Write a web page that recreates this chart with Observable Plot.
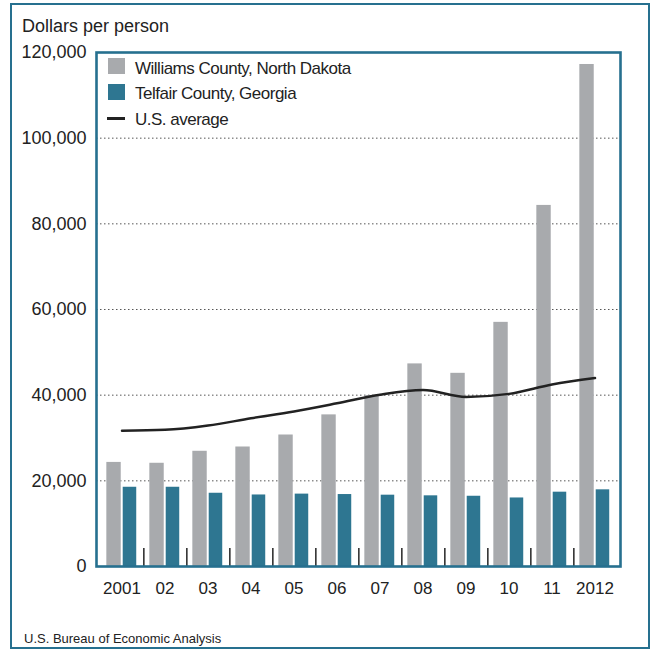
<!DOCTYPE html>
<html>
<head>
<meta charset="utf-8">
<script src="https://cdn.jsdelivr.net/npm/d3@7"></script>
<script src="https://cdn.jsdelivr.net/npm/@observablehq/plot@0.6"></script>
<style>
  html, body { margin: 0; padding: 0; background: #fff; }
  #wrap { position: relative; width: 651px; height: 649px; overflow: hidden; font-family: "Liberation Sans", Arial, Helvetica, sans-serif; color: #222; }
  #outer { position: absolute; left: 10px; top: 3px; width: 636px; height: 642px; border: 2px solid #26708f; }
  #chart { position: absolute; left: 0; top: 0; }
  .txt { position: absolute; white-space: nowrap; }
  #title { left: 22px; top: 16px; font-size: 18px; line-height: 20px; }
  #caption { left: 24px; top: 631px; font-size: 13px; line-height: 15px; }
  .leg { position: absolute; left: 135px; font-size: 17px; line-height: 20px; letter-spacing: -0.5px; white-space: nowrap; }
  .sw { position: absolute; left: 108px; width: 17px; height: 16px; }
  .ln { position: absolute; left: 107px; width: 18px; height: 2.5px; background: #222; }
</style>
</head>
<body>
<div id="wrap">
  <div id="outer"></div>
  <div id="chart"></div>
  <div class="txt" id="title">Dollars per person</div>
  <div class="txt" id="caption">U.S. Bureau of Economic Analysis</div>
  <div id="legend"></div>
</div>
<script>
const years = [2001, 2002, 2003, 2004, 2005, 2006, 2007, 2008, 2009, 2010, 2011, 2012];
const xLabels = ["2001", "02", "03", "04", "05", "06", "07", "08", "09", "10", "11", "2012"];
const williams = [24300, 24100, 26900, 27900, 30700, 35400, 39900, 47300, 45100, 57000, 84300, 117200];
const telfair = [18500, 18500, 17100, 16700, 16900, 16800, 16650, 16500, 16400, 16000, 17350, 17900];
const usAverage = [31700, 31900, 32900, 34600, 36200, 38100, 40100, 41200, 39600, 40300, 42500, 44000];
const yTicks = [0, 20000, 40000, 60000, 80000, 100000, 120000];
const gridTicks = [20000, 40000, 60000, 80000, 100000];
const seriesNames = ["Williams County, North Dakota", "Telfair County, Georgia", "U.S. average"];

const grayColor = "#a8aaad";
const tealColor = "#2e7691";
const frameColor = "#26708f";

const wData = years.map((y, i) => ({year: y, value: williams[i]}));
const tData = years.map((y, i) => ({year: y, value: telfair[i]}));
const aData = years.map((y, i) => ({year: y, value: usAverage[i]}));

const width = 651, height = 649;
const marginLeft = 96, marginRight = 31, marginTop = 52, marginBottom = 83;
const band = (width - marginLeft - marginRight) / years.length;

const chart = Plot.plot({
  width, height,
  marginLeft, marginRight, marginTop, marginBottom,
  style: {fontFamily: "'Liberation Sans', Arial, Helvetica, sans-serif", color: "#222", background: "transparent"},
  x: {type: "band", domain: years, padding: 0},
  y: {domain: [0, 120000]},
  marks: [
    Plot.gridY(gridTicks, {stroke: "#555", strokeOpacity: 1, strokeDasharray: "1.5,2.5", strokeWidth: 1}),
    Plot.barY(wData, {x: "year", y: "value", fill: grayColor, insetLeft: band * 0.145, insetRight: band * 0.51}),
    Plot.barY(tData, {x: "year", y: "value", fill: tealColor, insetLeft: band * 0.52, insetRight: band * 0.155}),
    Plot.axisX({ticks: years.slice(0, -1), tickSize: -18, strokeWidth: 1.6, stroke: "#333", dx: band / 2, text: null, label: null}),
    Plot.axisX({tickSize: 0, tickPadding: 15, fontSize: 17, tickFormat: (d) => xLabels[years.indexOf(d)], label: null}),
    Plot.axisY({ticks: yTicks, tickSize: 0, tickPadding: 10, fontSize: 18, tickFormat: d3.format(","), label: null}),
    Plot.line(aData, {x: "year", y: "value", stroke: "#222", strokeWidth: 2.5, curve: "monotone-x"}),
    Plot.frame({stroke: frameColor, strokeWidth: 2.6})
  ]
});
document.getElementById("chart").appendChild(chart);

// legend overlay
const legend = document.getElementById("legend");
const rows = [
  {name: seriesNames[0], kind: "box", color: grayColor, top: 59, swTop: 58},
  {name: seriesNames[1], kind: "box", color: tealColor, top: 84, swTop: 84},
  {name: seriesNames[2], kind: "line", color: "#222", top: 110, swTop: 117}
];
for (const r of rows) {
  const sw = document.createElement("div");
  if (r.kind === "box") { sw.className = "sw"; sw.style.background = r.color; }
  else { sw.className = "ln"; }
  sw.style.top = r.swTop + "px";
  legend.appendChild(sw);
  const t = document.createElement("div");
  t.className = "leg";
  t.style.top = r.top + "px";
  t.textContent = r.name;
  legend.appendChild(t);
}
</script>
</body>
</html>
